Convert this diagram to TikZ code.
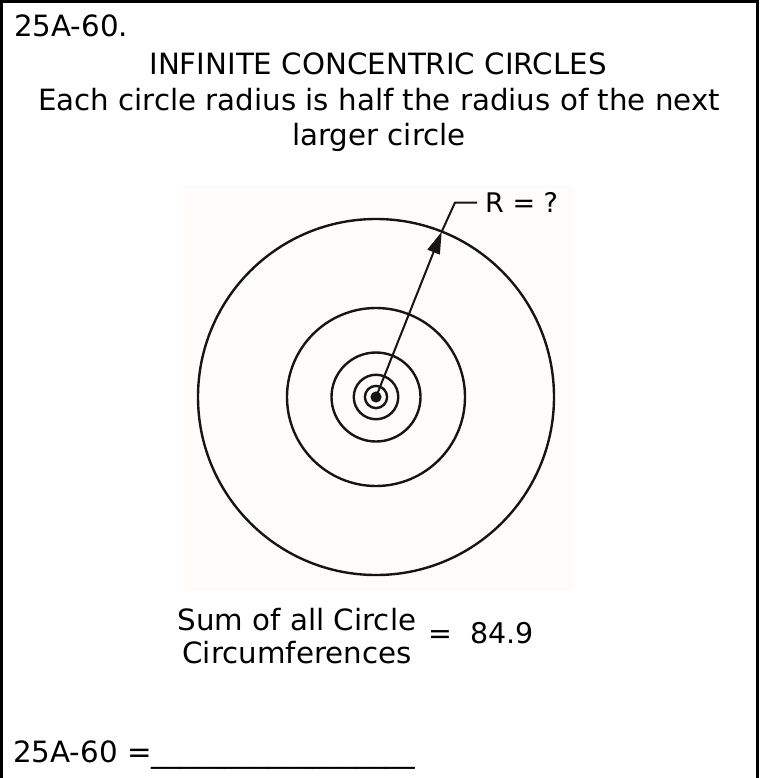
\documentclass[tikz,border=0pt]{standalone}
\usepackage{fontspec}
\setmainfont{DejaVu Sans}
\usetikzlibrary{arrows.meta,positioning}
\definecolor{ink}{HTML}{151515}
\definecolor{paper}{HTML}{FDFCFB}

\begin{document}
\begin{tikzpicture}[x=1pt,y=-1pt,>={Triangle[length=22pt,width=13pt]},
      caption/.style={inner sep=0pt,align=center,font=\fontsize{29.3}{35.5}\selectfont},
      sumtext/.style={inner sep=0pt,align=center,font=\fontsize{29.3}{33}\selectfont},
      value/.style={inner sep=0pt,font=\fontsize{28.5}{30}\selectfont},
      tag/.style={inner xsep=8pt,inner ysep=0pt,font=\fontsize{27}{30}\selectfont},
      ring/.style={draw=ink,line width=2.4pt},
      radius line/.style={->,line width=2pt,draw=ink},
      leader/.style={line width=2pt,draw=ink},
      frame/.style={line width=2.7pt,draw=black}]
    \useasboundingbox (0,0) rectangle (762,778);
    \fill[paper] (183,185) rectangle (573,591);
    \draw[frame] (1.3,778) -- (1.3,1.3) -- (757.5,1.3) -- (757.5,778);

    \node[caption,anchor=base west] (num) at (14,37) {25A-60.};
    \node[caption,anchor=base] (title) at (378,75) {INFINITE CONCENTRIC CIRCLES};
    \node[caption,anchor=north] (rule) at (379,87.7) {Each circle radius is half the radius of the next\\larger circle};

    % circles, each half the one outside it
    \coordinate (c) at (376,397);
    \foreach \r in {178,89,44.5,22.25,11.1}
      \draw[ring] (c) circle[radius=\r pt];
    \fill[ink] (c) circle[radius=5.6pt];

    \coordinate (tip) at (441.7,231.7);
    \coordinate (bend) at (455,202.5);
    \node[tag,anchor=west] (R) at (477,202.5) {R = ?};
    \draw[radius line] (c) -- (tip);
    \draw[leader] (tip) -- (bend) -- (R.west);

    \node[sumtext,anchor=north] (sum) at (297,607.7) {Sum of all Circle\\Circumferences};
    \node[value,anchor=base west] (total) at (428,643) {=~~84.9};

    \node[caption,anchor=base west] (answer) at (13,762) {25A-60 =\_\_\_\_\_\_\_\_\_\_\_\_\_\_\_\_\_\_};
\end{tikzpicture}
\end{document}
